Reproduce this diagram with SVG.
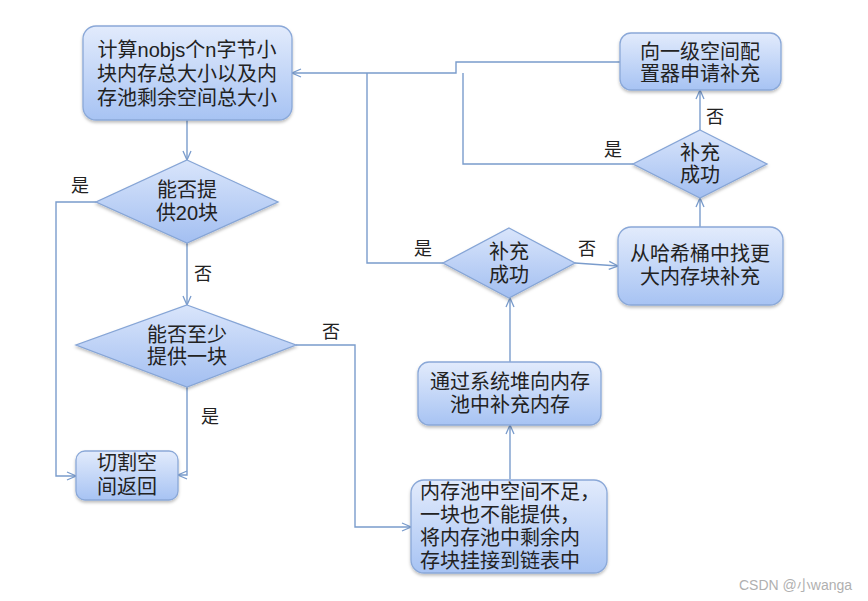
<svg xmlns="http://www.w3.org/2000/svg" width="868" height="601" viewBox="0 0 868 601">
<defs>
<linearGradient id="gBox" x1="0" y1="0" x2="0" y2="1">
<stop offset="0" stop-color="#e2ebfc"/>
<stop offset="1" stop-color="#a7c3f3"/>
</linearGradient>
<linearGradient id="gDia" x1="0" y1="0" x2="0" y2="1">
<stop offset="0" stop-color="#d9e5fb"/>
<stop offset="1" stop-color="#a3bff1"/>
</linearGradient>
<filter id="sh" x="-10%" y="-10%" width="120%" height="130%">
<feDropShadow dx="0" dy="2" stdDeviation="1.5" flood-color="#000" flood-opacity="0.25"/>
</filter>
<marker id="arr" viewBox="0 0 10 10" refX="10" refY="5" markerWidth="10" markerHeight="10" markerUnits="userSpaceOnUse" orient="auto">
<path d="M1,1 L10,5 L1,9" fill="none" stroke="#7a9ccc" stroke-width="1.3"/>
</marker>
</defs>
<style>
.box{fill:url(#gBox);stroke:#8aa8d8;stroke-width:1.3;filter:url(#sh)}
.dia{fill:url(#gDia);stroke:#86a5d6;stroke-width:1.3;filter:url(#sh)}
.t{font-family:"Liberation Sans","Noto Sans CJK SC",sans-serif;font-size:20px;fill:#222;text-anchor:middle}
.tl{text-anchor:start}
.lbl{font-family:"Liberation Sans","Noto Sans CJK SC",sans-serif;font-size:18px;fill:#222;text-anchor:middle}
.c{fill:none;stroke:#7a9ccc;stroke-width:1.4}
.wm{font-family:"Liberation Sans","Noto Sans CJK SC",sans-serif;font-size:14px;fill:#b0b0b0}
</style>
<rect width="868" height="601" fill="#fff"/>

<g id="connectors">
<path class="c" d="M187,120 V160" marker-end="url(#arr)"/>
<path class="c" d="M187,243 V305" marker-end="url(#arr)"/>
<path class="c" d="M96,202 H56 V476 H76" marker-end="url(#arr)"/>
<path class="c" d="M187,387 V475 H178" marker-end="url(#arr)"/>
<path class="c" d="M296,345 H355 V527 H411" marker-end="url(#arr)"/>
<path class="c" d="M510,479 V425" marker-end="url(#arr)"/>
<path class="c" d="M510,362 V298" marker-end="url(#arr)"/>
<path class="c" d="M575,263 L618,266" marker-end="url(#arr)"/>
<path class="c" d="M443,263 H367 V73"/>
<path class="c" d="M700,227 V198" marker-end="url(#arr)"/>
<path class="c" d="M700,130 V90" marker-end="url(#arr)"/>
<path class="c" d="M633,164 H463 V73"/>
<path class="c" d="M620,62 H456 V73 H292" marker-end="url(#arr)"/>
<text class="lbl" x="80" y="192">是</text>
<text class="lbl" x="203" y="280">否</text>
<text class="lbl" x="210" y="423">是</text>
<text class="lbl" x="331" y="338">否</text>
<text class="lbl" x="423" y="255">是</text>
<text class="lbl" x="587" y="255">否</text>
<text class="lbl" x="613" y="156">是</text>
<text class="lbl" x="715" y="123">否</text>
</g>

<g id="n-calc">
<rect class="box" x="83" y="26" width="209" height="94" rx="13"/>
<text class="t" x="187" y="57"><tspan x="187">计算nobjs个n字节小</tspan><tspan x="187" dy="24">块内存总大小以及内</tspan><tspan x="187" dy="24">存池剩余空间总大小</tspan></text>
</g>

<g id="n-d20">
<polygon class="dia" points="187,160 278,202 187,243 96,202"/>
<text class="t" x="187" y="197"><tspan x="187">能否提</tspan><tspan x="187" dy="23">供20块</tspan></text>
</g>

<g id="n-d1">
<polygon class="dia" points="187,305 296,345 187,387 76,345"/>
<text class="t" x="187" y="342"><tspan x="187">能否至少</tspan><tspan x="187" dy="22">提供一块</tspan></text>
</g>

<g id="n-cut">
<rect class="box" x="76" y="451" width="102" height="49" rx="9"/>
<text class="t" x="127" y="470"><tspan x="127">切割空</tspan><tspan x="127" dy="24">间返回</tspan></text>
</g>

<g id="n-short">
<rect class="box" x="411" y="480" width="196" height="93" rx="13"/>
<text class="t tl" x="420" y="499"><tspan x="420">内存池中空间不足，</tspan><tspan x="420" dy="23">一块也不能提供，</tspan><tspan x="420" dy="23">将内存池中剩余内</tspan><tspan x="420" dy="23">存块挂接到链表中</tspan></text>
</g>

<g id="n-heap">
<rect class="box" x="418" y="362" width="183" height="63" rx="11"/>
<text class="t" x="510" y="389"><tspan x="510">通过系统堆向内存</tspan><tspan x="510" dy="23">池中补充内存</tspan></text>
</g>

<g id="n-d3">
<polygon class="dia" points="509,228 575,263 509,298 443,263"/>
<text class="t" x="509" y="259"><tspan x="509">补充</tspan><tspan x="509" dy="23">成功</tspan></text>
</g>

<g id="n-hash">
<rect class="box" x="618" y="227" width="165" height="78" rx="13"/>
<text class="t" x="700" y="261"><tspan x="700">从哈希桶中找更</tspan><tspan x="700" dy="23">大内存块补充</tspan></text>
</g>

<g id="n-d4">
<polygon class="dia" points="700,130 767,164 700,198 633,164"/>
<text class="t" x="700" y="160"><tspan x="700">补充</tspan><tspan x="700" dy="22">成功</tspan></text>
</g>

<g id="n-first">
<rect class="box" x="620" y="33" width="161" height="57" rx="11"/>
<text class="t" x="700" y="59"><tspan x="700">向一级空间配</tspan><tspan x="700" dy="22">置器申请补充</tspan></text>
</g>

<text class="wm" x="739" y="590">CSDN @小wanga</text>
</svg>
